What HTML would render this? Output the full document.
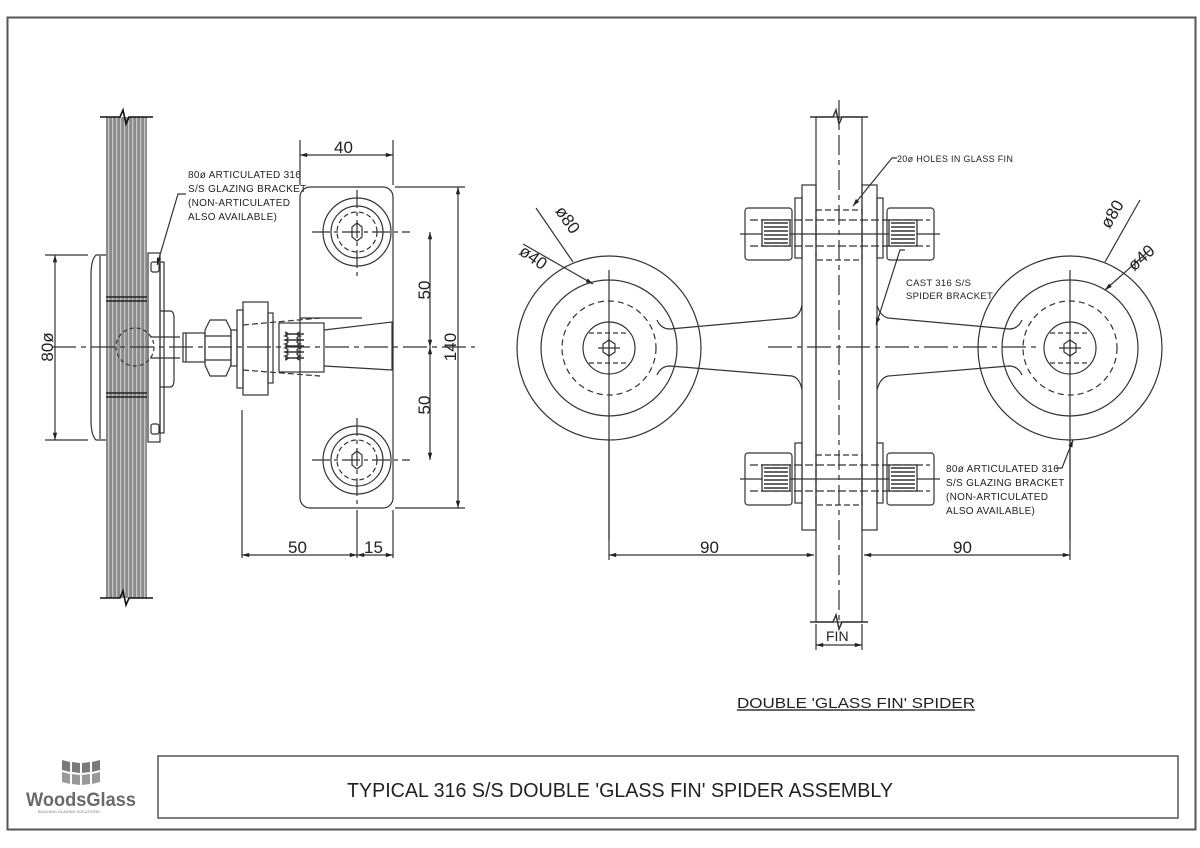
<!DOCTYPE html>
<html><head><meta charset="utf-8"><style>
html,body{margin:0;padding:0;background:#fff;}
svg{display:block;}
text{font-family:"Liberation Sans",sans-serif;fill:#222;}
</style></head><body>
<svg width="1200" height="848" viewBox="0 0 1200 848" xmlns="http://www.w3.org/2000/svg">
<defs>
<marker id="a" viewBox="0 0 10 10" refX="10" refY="5" markerWidth="8" markerHeight="6" orient="auto-start-reverse"><path d="M0,2 L10,5 L0,8 z" fill="#222"/></marker>
<pattern id="gl" width="4" height="10" patternUnits="userSpaceOnUse"><rect width="4" height="10" fill="#8a8a8a"/><rect x="0" width="1.3" height="10" fill="#c8c8c8"/></pattern>
</defs>
<g fill="none" stroke="#333" stroke-width="1.2">
<rect x="7.5" y="17.5" width="1188" height="812" stroke="#555" stroke-width="2"/>
<rect x="158" y="756" width="1020" height="62" stroke="#555" stroke-width="1.5"/>

<!-- ===== LEFT VIEW ===== -->
<rect x="106" y="117" width="41" height="481" fill="url(#gl)" stroke="none"/>
<path d="M100,117 H120 L123,110 L126,124 L129,117 H153" stroke="#111" stroke-width="1.6"/>
<path d="M100,598 H120 L123,591 L126,605 L129,598 H153" stroke="#111" stroke-width="1.6"/>
<path d="M106,297 H147 M106,301 H147 M106,393 H147 M106,397 H147" stroke="#222" stroke-width="1.5"/>
<path d="M106,255 H96 Q91,260 91,275 V420 Q91,435 96,440 H106" />
<path d="M100,256 V439"/>
<rect x="148" y="253" width="12" height="189"/>
<rect x="160" y="262" width="4" height="171"/>
<rect x="151" y="262" width="8" height="10" rx="2"/><rect x="151" y="424" width="8" height="10" rx="2"/>
<path d="M160,311 H170 Q174,311 174,318 V380 Q174,387 170,387 H160"/>
<circle cx="135" cy="347" r="19" stroke-dasharray="4,3"/>
<path d="M150,337 H180 M150,358 H180"/>
<rect x="183" y="333" width="22" height="29"/>
<path d="M186,333 V362"/>
<path d="M205,330 L210,320 H226 L231,330 V365 L226,376 H210 L205,365 Z"/>
<path d="M205,336 H231 M205,360 H231"/>
<rect x="231" y="330" width="6" height="36"/>
<rect x="237" y="310" width="6" height="78"/>
<rect x="243" y="302" width="25" height="93"/>
<rect x="268" y="313" width="5" height="70"/>
<rect x="279" y="323" width="45" height="49"/>
<path d="M300,318 L360,318 L362,318 M324,330 L392,322 V370 L324,366" />
<path d="M243,325 L320,318 M243,370 L320,376" stroke-dasharray="6,3"/>
<g stroke-width="1.4"><path d="M285,332 q6,2 0,4 q6,2 0,4 q6,2 0,4 q6,2 0,4 q6,2 0,4 q6,2 0,4 q6,2 0,4 M300,332 q-6,2 0,4 q-6,2 0,4 q-6,2 0,4 q-6,2 0,4 q-6,2 0,4 q-6,2 0,4 q-6,2 0,4"/></g>
<path d="M285,334 H304 M285,340 H304 M285,346 H304 M285,352 H304 M285,358 H304" stroke-width="1.4"/>
<rect x="300" y="187" width="93" height="321" rx="10"/>
<circle cx="357" cy="232" r="34"/><circle cx="357" cy="232" r="26"/>
<circle cx="357" cy="232" r="20" stroke-dasharray="5,3"/>
<circle cx="357" cy="460" r="34"/><circle cx="357" cy="460" r="26"/>
<circle cx="357" cy="460" r="20" stroke-dasharray="5,3"/>
<path d="M352,227 L357,223 L362,227 V237 L357,241 L352,237 Z"/>
<path d="M352,455 L357,451 L362,455 V465 L357,469 L352,465 Z"/>
<path d="M312,232 H410 M357,190 V278 M312,460 H410 M357,418 V508" stroke-dasharray="18,4,4,4"/>
<path d="M52,347 H475" stroke-dasharray="24,5,5,5"/>
<path d="M300,185 V140 M393,185 V140"/>
<path d="M300,155 H393" marker-start="url(#a)" marker-end="url(#a)"/>
<path d="M395,187 H465 M395,508 H465"/>
<path d="M458,187 V508" marker-start="url(#a)" marker-end="url(#a)"/>
<path d="M430,232 V347" marker-start="url(#a)" marker-end="url(#a)"/>
<path d="M430,347 V460" marker-start="url(#a)" marker-end="url(#a)"/>
<path d="M242,410 V558 M393,510 V558 M357,510 V558"/>
<path d="M242,555 H357" marker-start="url(#a)" marker-end="url(#a)"/>
<path d="M357,555 H393" marker-start="url(#a)" marker-end="url(#a)"/>
<path d="M45,255 H88 M45,440 H88"/>
<path d="M55,255 V440" marker-start="url(#a)" marker-end="url(#a)"/>
<path d="M157,265 L178,194 H186" marker-start="url(#a)"/>

<!-- ===== RIGHT VIEW ===== -->
<rect x="816" y="117" width="46" height="505"/>
<path d="M810,117 H833 L836,110 L839,124 L842,117 H868" stroke-width="1.5"/>
<path d="M810,622 H833 L836,615 L839,629 L842,622 H868" stroke-width="1.5"/>
<path d="M839,100 V625" stroke-dasharray="20,5,5,5"/>
<path d="M657,320 Q661,329 670,329 L792,318 Q800,316 802,305 M657,375 Q661,366 670,366 L792,376 Q800,378 802,390"/>
<path d="M1022,320 Q1018,329 1009,329 L888,318 Q880,316 877,305 M1022,375 Q1018,366 1009,366 L888,376 Q880,378 877,390"/>
<path d="M768,347 H1040" stroke-dasharray="24,5,5,5"/>
<rect x="802" y="185" width="14" height="345"/>
<rect x="862" y="185" width="15" height="345"/>
<g id="bb">
<rect x="795" y="198" width="7" height="60"/>
<rect x="877" y="198" width="6" height="60"/>
<rect x="745" y="208" width="47" height="52" rx="3"/>
<rect x="887" y="208" width="47" height="52" rx="3"/>
<rect x="816" y="210" width="46" height="50" stroke-dasharray="6,3"/>
<path d="M750,220 H930 M750,246 H930" stroke-dasharray="8,3"/>
<path d="M740,234 H940"/>
<rect x="762" y="220" width="28" height="26" fill="#fff" stroke="#222"/>
<path d="M764,223 H788 M764,227 H788 M764,231 H788 M764,235 H788 M764,239 H788 M764,243 H788" stroke-width="1.6"/>
<rect x="889" y="220" width="28" height="26" fill="#fff" stroke="#222"/>
<path d="M891,223 H915 M891,227 H915 M891,231 H915 M891,235 H915 M891,239 H915 M891,243 H915" stroke-width="1.6"/>
</g>
<use href="#bb" y="245"/>
<g id="disc">
<circle cx="609" cy="348" r="92" fill="none"/>
<circle cx="609" cy="348" r="68"/>
<circle cx="609" cy="348" r="47" stroke-dasharray="6,4"/>
<circle cx="609" cy="348" r="26"/>
<path d="M589,333 H629 M589,363 H629" stroke-dasharray="5,3"/>
<path d="M603,344 L609,340 L615,344 V352 L609,356 L603,352 Z"/>
<path d="M598,348 H620 M609,338 V358"/>
<path d="M609,270 V540"/>
</g>
<use href="#disc" x="461"/>
<path d="M609,440 V560 M1070,440 V560"/>
<path d="M609,555 H814" marker-start="url(#a)" marker-end="url(#a)"/>
<path d="M864,555 H1070" marker-start="url(#a)" marker-end="url(#a)"/>
<path d="M816,624 V650 M862,624 V650"/>
<path d="M816,645 H862" marker-start="url(#a)" marker-end="url(#a)"/>
<path d="M573,262 L536,208" /><path d="M593,284 L523,244" marker-start="url(#a)"/>
<path d="M1105,262 L1140,200"/><path d="M1105,290 L1150,250" marker-start="url(#a)"/>
<path d="M853,206 L892,158 H897" marker-start="url(#a)"/>
<path d="M876,325 L900,250 H905" marker-start="url(#a)"/>
<path d="M1073,440 L1062,468 H1056" marker-start="url(#a)"/>
<path d="M737,710 H975" stroke-width="1.4"/>
</g>

<g font-size="10" letter-spacing="0.3">
<text x="188" y="178">80ø ARTICULATED 316</text>
<text x="188" y="192">S/S GLAZING BRACKET</text>
<text x="188" y="206">(NON-ARTICULATED</text>
<text x="188" y="220">ALSO AVAILABLE)</text>
<text x="897" y="162" font-size="9">20ø HOLES IN GLASS FIN</text>
<text x="906" y="286" font-size="9.5">CAST 316 S/S</text>
<text x="906" y="299" font-size="9.5">SPIDER BRACKET</text>
<text x="946" y="472">80ø ARTICULATED 316</text>
<text x="946" y="486">S/S GLAZING BRACKET</text>
<text x="946" y="500">(NON-ARTICULATED</text>
<text x="946" y="514">ALSO AVAILABLE)</text>
</g>
<g font-size="17">
<text x="334" y="153">40</text>
<text x="288" y="553">50</text>
<text x="364" y="553">15</text>
<text x="700" y="553">90</text>
<text x="953" y="553">90</text>
<text x="826" y="641" font-size="14">FIN</text>
<text transform="translate(53,347) rotate(-90)" text-anchor="middle">80ø</text>
<text transform="translate(430,290) rotate(-90)" text-anchor="middle">50</text>
<text transform="translate(430,405) rotate(-90)" text-anchor="middle">50</text>
<text transform="translate(456,347) rotate(-90)" text-anchor="middle">140</text>
<text transform="translate(563,223) rotate(55)" text-anchor="middle">ø80</text>
<text transform="translate(530,262) rotate(35)" text-anchor="middle">ø40</text>
<text transform="translate(1117,217) rotate(-60)" text-anchor="middle">ø80</text>
<text transform="translate(1145,262) rotate(-42)" text-anchor="middle">ø40</text>
</g>
<text x="737" y="708" font-size="15" textLength="238" lengthAdjust="spacingAndGlyphs">DOUBLE 'GLASS FIN' SPIDER</text>
<text x="347" y="797" font-size="20" textLength="546" lengthAdjust="spacingAndGlyphs">TYPICAL 316 S/S DOUBLE 'GLASS FIN' SPIDER ASSEMBLY</text>
<g fill="#7a7a7a">
<path d="M62,760 l8,2 v10 l-8,-2z M72,762 l8,1 v10 l-8,-1z M82,763 l8,-1 v10 l-8,1z M92,762 l8,-2 v10 l-8,2z"/>
<path d="M62,772 l8,2 v10 l-8,-2z M72,774 l8,1 v10 l-8,-1z M82,775 l8,-1 v10 l-8,1z M92,774 l8,-2 v10 l-8,2z" fill="#999"/>
</g>
<text x="26" y="806" font-size="19" font-weight="bold" style="fill:#6a6a6a" textLength="110" lengthAdjust="spacingAndGlyphs">WoodsGlass</text>
<text x="38" y="813" font-size="4" style="fill:#777">BUILDING GLAZING SOLUTIONS</text>
</svg>
</body></html>
